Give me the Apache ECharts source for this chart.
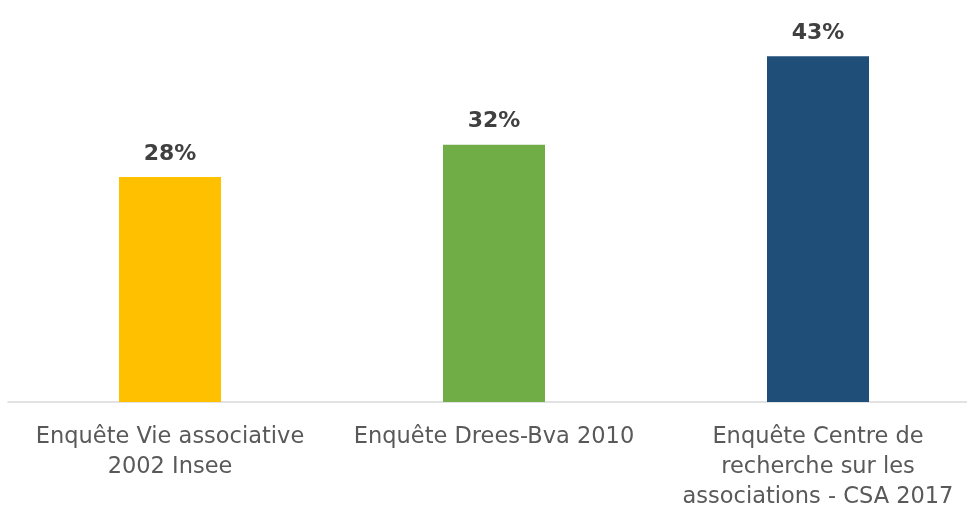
<!DOCTYPE html>
<html><head><meta charset="utf-8">
<script src="https://cdn.jsdelivr.net/npm/echarts@6/dist/echarts.min.js"></script>
<style>html,body{margin:0;padding:0;background:#fff}#c{width:967px;height:510px}</style>
</head><body><div id="c"></div>
<script>
const categories = ["Enquête Vie associative\n2002 Insee", "Enquête Drees-Bva 2010", "Enquête Centre de\nrecherche sur les\nassociations - CSA 2017"];
const values = [28, 32, 43];
const barColors = ["#FFC000", "#70AD47", "#1F4E79"];

const chart = echarts.init(document.getElementById('c'));
chart.setOption({
  animation: false,
  grid: { left: 8, width: 972, top: 0, bottom: 108, containLabel: false, outerBoundsMode: 'none' },
  xAxis: {
    type: 'category', data: categories,
    axisLine: { lineStyle: { color: '#D9D9D9', width: 1.5 } },
    axisTick: { show: false },
    axisLabel: { color: '#595959', fontFamily: 'DejaVu Sans', fontSize: 22.5, lineHeight: 30, margin: 20, interval: 0 }
  },
  yAxis: { type: 'value', min: 0, max: 50, show: false, splitLine: { show: false } },
  series: [{
    type: 'bar', barWidth: 102,
    data: values.map((v, i) => ({ value: v, itemStyle: { color: barColors[i] } })),
    label: { show: true, position: 'top', distance: 12, formatter: '{c}%', color: '#404040', fontFamily: 'DejaVu Sans', fontWeight: 'bold', fontSize: 22 }
  }]
});
</script></body></html>
